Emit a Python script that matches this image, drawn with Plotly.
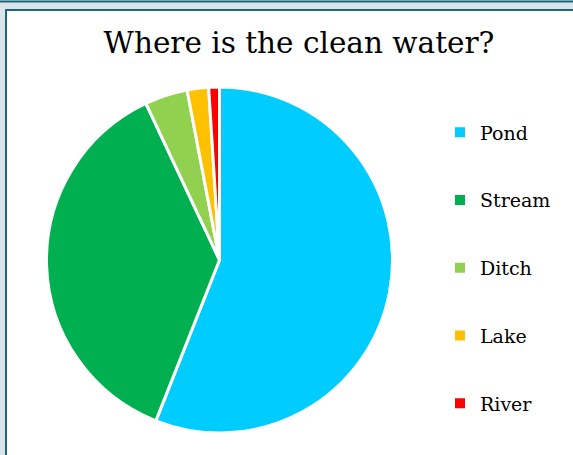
import plotly.graph_objects as go

labels = ["Pond", "Stream", "Ditch", "Lake", "River"]
values = [56, 37, 4, 2, 1]
colors = ["#00CCFF", "#00B050", "#92D050", "#FFC000", "#FF0000"]
title_text = "Where is the clean water?"

W, H = 573, 455
TEAL = "#1b6679"
BG = "#dae5ea"
FONT = "DejaVu Serif"

fig = go.Figure()

cx, cy, r = 219.5, 260.0, 173.0
fig.add_trace(go.Pie(
    labels=labels, values=values,
    marker=dict(colors=colors, line=dict(color="white", width=3)),
    sort=False, direction="clockwise", rotation=0,
    textinfo="none", hoverinfo="label+percent",
    showlegend=False,
    domain=dict(x=[(cx - r) / W, (cx + r) / W], y=[1 - (cy + r) / H, 1 - (cy - r) / H]),
))

# legend entries (one per category) so that spacing can be set
for lab, col in zip(labels, colors):
    fig.add_trace(go.Scatter(
        x=[None], y=[None], mode="markers", name=lab, legendgroup=lab,
        marker=dict(symbol="square", size=10, color=col),
        showlegend=True, hoverinfo="skip",
    ))

fig.update_layout(
    width=W, height=H,
    margin=dict(l=0, r=0, t=0, b=0),
    paper_bgcolor=BG, plot_bgcolor="rgba(0,0,0,0)",
    xaxis=dict(visible=False), yaxis=dict(visible=False),
    font=dict(family=FONT, color="black"),
    title=dict(text=title_text, x=299 / W, xanchor="center", y=1 - 43 / H, yanchor="middle",
               yref="paper", xref="paper", font=dict(family=FONT, size=29.5, color="black")),
    legend=dict(x=440 / W, xanchor="left", y=1 - 113.5 / H, yanchor="top",
                font=dict(family=FONT, size=19, color="black"),
                bgcolor="rgba(0,0,0,0)", tracegroupgap=40, itemsizing="trace"),
    shapes=[
        dict(type="line", xref="paper", yref="paper", x0=0, x1=1, y0=1 - 1.5 / H, y1=1 - 1.5 / H,
             line=dict(color=TEAL, width=2), layer="below"),
        dict(type="rect", xref="paper", yref="paper", x0=6 / W, x1=1.05, y0=-0.05, y1=1 - 10 / H,
             fillcolor="white", line=dict(color=TEAL, width=2), layer="below"),
    ],
)

fig.write_html("out.html")
